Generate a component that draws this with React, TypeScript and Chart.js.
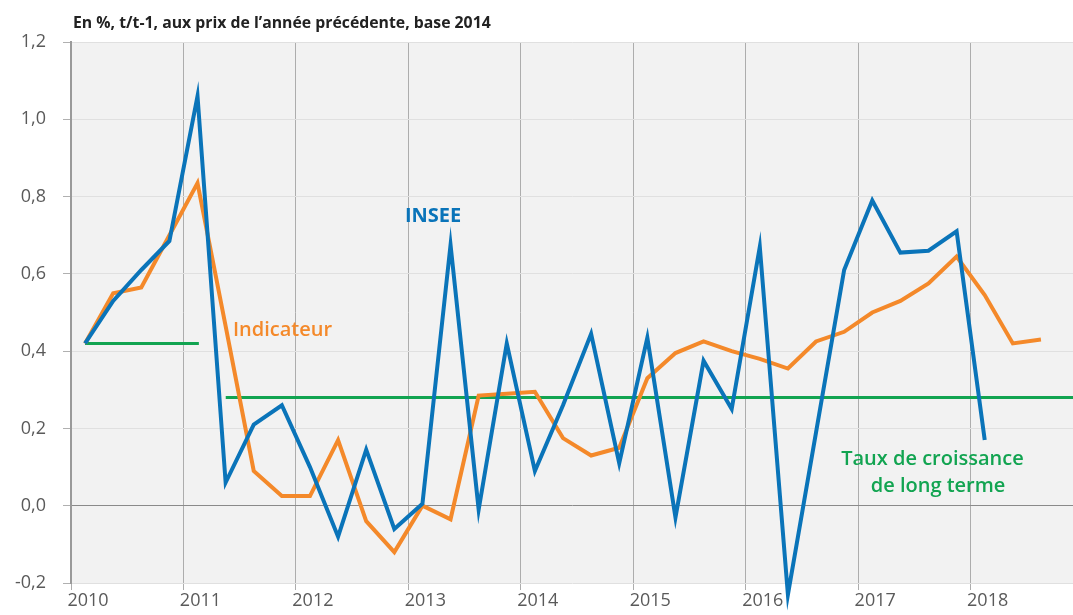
import { useEffect, useRef } from "react";
import { Chart, registerables } from "chart.js";

Chart.register(...registerables);

// Quarters 2010T1 .. 2018T3
const quarters: string[] = [
  "2010T1", "2010T2", "2010T3", "2010T4",
  "2011T1", "2011T2", "2011T3", "2011T4",
  "2012T1", "2012T2", "2012T3", "2012T4",
  "2013T1", "2013T2", "2013T3", "2013T4",
  "2014T1", "2014T2", "2014T3", "2014T4",
  "2015T1", "2015T2", "2015T3", "2015T4",
  "2016T1", "2016T2", "2016T3", "2016T4",
  "2017T1", "2017T2", "2017T3", "2017T4",
  "2018T1", "2018T2", "2018T3",
];

// INSEE published growth (to 2018T1)
const inseeValues: number[] = [
  0.42, 0.53, 0.61, 0.685,
  1.06, 0.06, 0.21, 0.26,
  0.1, -0.08, 0.145, -0.06,
  0.005, 0.675, -0.01, 0.42,
  0.09, 0.26, 0.445, 0.11,
  0.435, -0.03, 0.375, 0.25,
  0.67, -0.23, 0.19, 0.61,
  0.79, 0.655, 0.66, 0.71,
  0.17,
];

// Indicator (to 2018T3)
const indicatorValues: number[] = [
  0.42, 0.55, 0.565, 0.7,
  0.835, 0.465, 0.09, 0.025,
  0.025, 0.17, -0.04, -0.12,
  0.0, -0.035, 0.285, 0.29,
  0.295, 0.175, 0.13, 0.15,
  0.33, 0.395, 0.425, 0.4,
  0.38, 0.355, 0.425, 0.45,
  0.5, 0.53, 0.575, 0.645,
  0.545, 0.42, 0.43,
];

// Long-term growth rate segments: [startYear, endYear, value]
const longTermStarts: number[] = [2010.125, 2011.376];
const longTermEnds: number[] = [2011.137, 2018.91];
const longTermValues: number[] = [0.42, 0.28];

const yTickValues: number[] = [-0.2, 0, 0.2, 0.4, 0.6, 0.8, 1.0, 1.2];
const xYears: number[] = [2010, 2011, 2012, 2013, 2014, 2015, 2016, 2017, 2018];

const TITLE = "En %, t/t-1, aux prix de l’année précédente, base 2014";

const BLUE = "#0a74b9";
const ORANGE = "#f4892a";
const GREEN = "#12a451";

function quarterToX(q: string): number {
  const year = parseInt(q.slice(0, 4), 10);
  const qi = parseInt(q.slice(5), 10) - 1;
  return year + (qi + 0.5) / 4;
}

export default function App() {
  const canvasRef = useRef<HTMLCanvasElement | null>(null);

  useEffect(() => {
    const canvas = canvasRef.current;
    if (!canvas) return;

    const inseeData = inseeValues.map((v, i) => ({ x: quarterToX(quarters[i]), y: v }));
    const indicatorData = indicatorValues.map((v, i) => ({ x: quarterToX(quarters[i]), y: v }));
    const longTermSets = longTermValues.map((v, i) => ({
      label: "Taux de croissance de long terme " + i,
      data: [
        { x: longTermStarts[i], y: v },
        { x: longTermEnds[i], y: v },
      ],
      borderColor: GREEN,
      borderWidth: 3,
      pointRadius: 0,
      tension: 0,
      order: 3,
    }));

    const fontFamily = "'Open Sans', 'Noto Sans', sans-serif";

    const decor = {
      id: "decor",
      beforeDraw(chart: any) {
        const { ctx, chartArea } = chart;
        ctx.save();
        ctx.fillStyle = "#f2f2f2";
        ctx.fillRect(chartArea.left, chartArea.top, chartArea.right - chartArea.left, chartArea.bottom - chartArea.top);
        ctx.restore();
      },
      afterDraw(chart: any) {
        const { ctx, scales } = chart;
        const xs = scales.x;
        const ys = scales.y;
        ctx.save();
        ctx.textBaseline = "middle";
        // title
        ctx.fillStyle = "#222";
        ctx.font = `bold 15.8px ${fontFamily}`;
        ctx.textAlign = "left";
        ctx.fillText(TITLE, 73, 23);
        // INSEE
        ctx.fillStyle = BLUE;
        ctx.font = `bold 20px ${fontFamily}`;
        ctx.textAlign = "center";
        ctx.fillText("INSEE", xs.getPixelForValue(2013.22), ys.getPixelForValue(0.75));
        // Indicateur
        ctx.fillStyle = ORANGE;
        ctx.font = `600 20px ${fontFamily}`;
        ctx.textAlign = "left";
        ctx.fillText("Indicateur", xs.getPixelForValue(2011.44), ys.getPixelForValue(0.455));
        // Long term
        ctx.fillStyle = GREEN;
        ctx.textAlign = "center";
        ctx.fillText("Taux de croissance", xs.getPixelForValue(2017.66), ys.getPixelForValue(0.12));
        ctx.fillText("de long terme", xs.getPixelForValue(2017.71), ys.getPixelForValue(0.05));
        ctx.restore();
      },
    };

    const chart = new Chart(canvas, {
      type: "line",
      data: {
        datasets: [
          {
            label: "INSEE",
            data: inseeData,
            borderColor: BLUE,
            borderWidth: 4,
            pointRadius: 0,
            tension: 0,
            order: 1,
            clip: false,
          },
          {
            label: "Indicateur",
            data: indicatorData,
            borderColor: ORANGE,
            borderWidth: 4,
            pointRadius: 0,
            tension: 0,
            order: 2,
          },
          ...longTermSets,
        ],
      },
      options: {
        animation: false,
        responsive: false,
        devicePixelRatio: 1,
        layout: { padding: { top: 42, right: 0, left: 0, bottom: 0 } },
        plugins: {
          legend: { display: false },
          tooltip: { enabled: false },
          title: { display: false },
        },
        elements: { line: { borderJoinStyle: "miter", borderCapStyle: "butt" } },
        scales: {
          x: {
            type: "linear",
            min: 2010,
            max: 2018.91,
            afterBuildTicks(scale: any) {
              scale.ticks = xYears.map((v) => ({ value: v }));
            },
            afterFit(scale: any) {
              scale.height = 32;
            },
            ticks: {
              includeBounds: false,
              autoSkip: false,
              maxRotation: 0,
              labelOffset: 17,
              padding: 0,
              color: "#5a5a5a",
              font: { family: fontFamily, size: 18 },
              callback: (v: any) => String(v),
            },
            grid: {
              color: "#adadad",
              lineWidth: 1,
              tickLength: 7,
              tickColor: "#adadad",
            },
            border: { display: false },
          },
          y: {
            type: "linear",
            min: -0.2,
            max: 1.2,
            afterBuildTicks(scale: any) {
              scale.ticks = yTickValues.map((v) => ({ value: v }));
            },
            afterFit(scale: any) {
              scale.width = 71;
            },
            ticks: {
              color: "#5a5a5a",
              padding: 17,
              font: { family: fontFamily, size: 18 },
              callback: (v: any) => Number(v).toFixed(1).replace(".", ","),
            },
            grid: {
              color: (ctx: any) => (ctx.tick && Math.abs(ctx.tick.value) < 1e-9 ? "#8a8a8a" : "#e0e0e0"),
              lineWidth: 1,
              tickLength: 8,
              tickColor: "#b0b0b0",
            },
            border: { display: true, color: "#9a9a9a", width: 2 },
          },
        },
      },
      plugins: [decor],
    } as any);

    return () => {
      chart.destroy();
    };
  }, []);

  return (
    <div style={{ position: "absolute", left: 0, top: 0, width: 1073, height: 615, background: "#fff" }}>
      <canvas ref={canvasRef} width={1073} height={615} style={{ display: "block" }} />
    </div>
  );
}
